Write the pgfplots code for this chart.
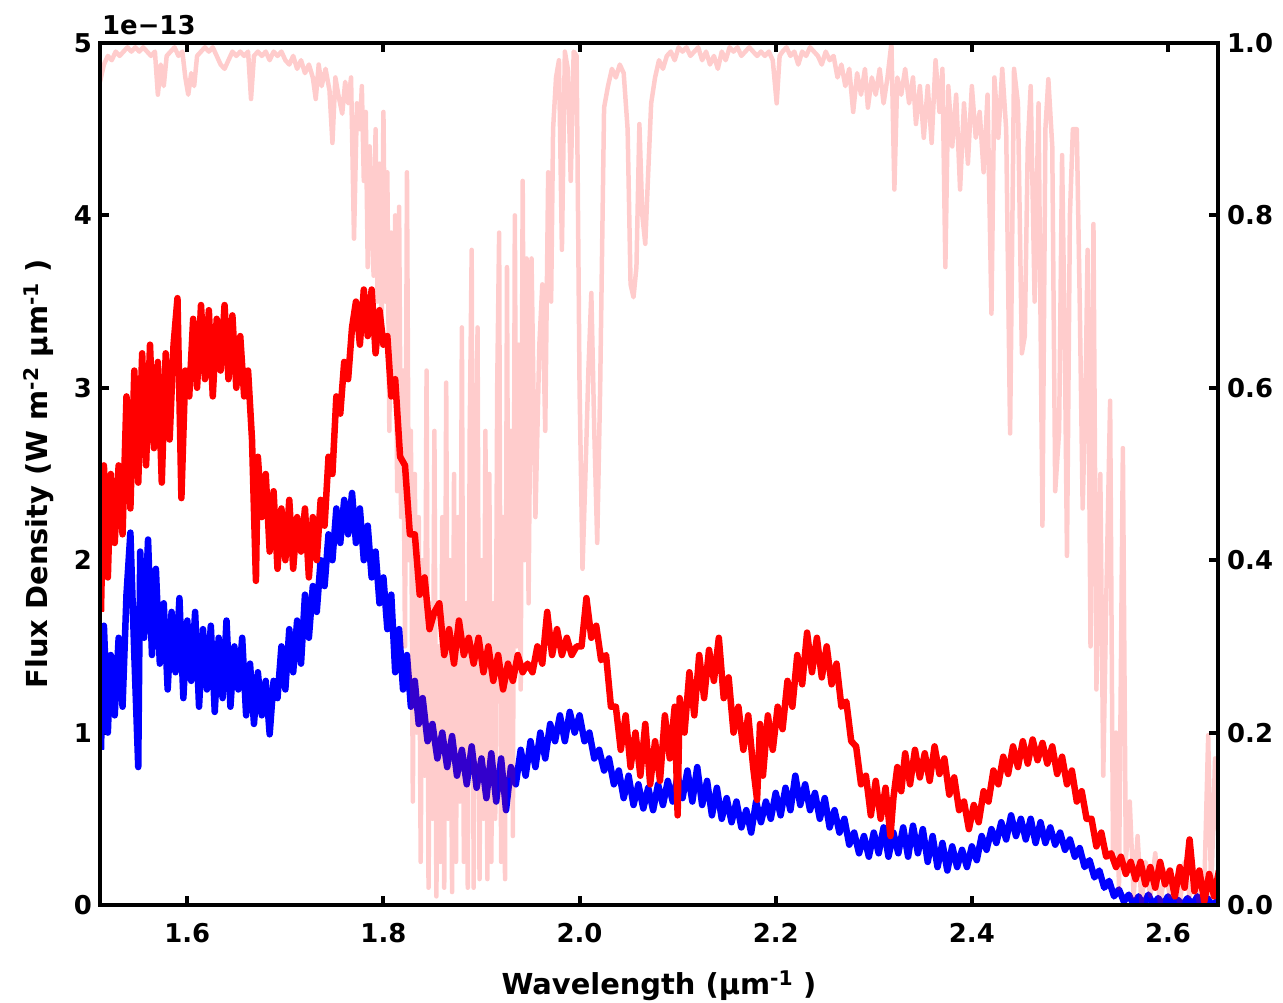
\documentclass[border=0pt]{standalone}
\usepackage{fontspec}
\setmainfont{DejaVu Sans}
\usepackage{pgfplots}
\pgfplotsset{compat=1.18}

% shared look of both axes
\pgfplotsset{
  specaxis/.style={
    scale only axis, width=1118bp, height=862bp,
    xmin=1.511, xmax=2.651,
    tick align=inside, major tick length=9bp,
    every tick/.style={black, line width=4bp},
    axis line style={line width=4.5bp},
    tick label style={font=\fontsize{26}{30}\selectfont\bfseries},
  },
}

\begin{document}
\begin{tikzpicture}[font=\bfseries]
\begin{axis}[
    specaxis, name=ax,
    ymin=0, ymax=5,
    xtick={1.6,1.8,2.0,2.2,2.4,2.6},
    xticklabels={1.6,1.8,2.0,2.2,2.4,2.6},
    xtick pos=both, xticklabel pos=lower,
    ytick={0,1,2,3,4,5}, yticklabels={0,1,2,3,4,5},
    ytick pos=left, yticklabel pos=left,
    xticklabel style={anchor=north, inner sep=0pt, yshift=-18bp},
    yticklabel style={anchor=east, inner sep=0pt, xshift=-8bp},
    xlabel={Wavelength (μm\textsuperscript{-1}\ )},
    ylabel={Flux Density (W m\textsuperscript{-2} μm\textsuperscript{-1}\ )},
    xlabel style={at={(axis description cs:0.5,-0.1044)}, anchor=base,
      font=\fontsize{29}{34}\selectfont\bfseries},
    ylabel style={at={(axis description cs:-0.047,0.5)}, anchor=base,
      font=\fontsize{29}{34}\selectfont\bfseries},
]
% second spectrum (blue)
\addplot[blue, line width=6.5bp, line join=round, mark=none] coordinates {
(1.512,0.90) (1.515,1.62) (1.519,1.00) (1.522,1.45) (1.526,1.10) (1.530,1.55)
(1.534,1.15) (1.538,1.80) (1.542,2.16) (1.546,1.45) (1.550,0.80) (1.552,2.05)
(1.556,1.55) (1.560,2.12) (1.564,1.45) (1.568,1.95) (1.572,1.40) (1.576,1.75)
(1.580,1.25) (1.584,1.70) (1.588,1.35) (1.592,1.78) (1.596,1.20) (1.600,1.65)
(1.604,1.30) (1.608,1.70) (1.612,1.15) (1.616,1.60) (1.620,1.25) (1.624,1.62)
(1.628,1.12) (1.632,1.55) (1.636,1.20) (1.640,1.65) (1.644,1.15) (1.648,1.50)
(1.652,1.25) (1.656,1.55) (1.660,1.10) (1.664,1.40) (1.668,1.05) (1.672,1.35)
(1.676,1.10) (1.680,1.30) (1.684,0.99) (1.688,1.30) (1.692,1.20) (1.696,1.50)
(1.700,1.25) (1.704,1.60) (1.708,1.35) (1.712,1.65) (1.716,1.40) (1.720,1.80)
(1.724,1.55) (1.728,1.85) (1.732,1.70) (1.736,2.00) (1.740,1.85) (1.744,2.15)
(1.748,2.00) (1.752,2.30) (1.756,2.10) (1.760,2.35) (1.764,2.15) (1.768,2.39)
(1.772,2.10) (1.776,2.30) (1.780,2.00) (1.784,2.20) (1.788,1.90) (1.792,2.05)
(1.796,1.75) (1.800,1.90) (1.804,1.60) (1.808,1.80) (1.812,1.35) (1.816,1.60)
(1.820,1.25) (1.824,1.45) (1.828,1.15) (1.832,1.30) (1.836,1.05) (1.840,1.20)
(1.845,0.95) (1.850,1.05) (1.855,0.85) (1.860,1.00) (1.865,0.80) (1.870,0.98)
(1.875,0.75) (1.880,0.90) (1.885,0.70) (1.890,0.92) (1.895,0.68) (1.900,0.85)
(1.905,0.62) (1.910,0.88) (1.915,0.60) (1.920,0.85) (1.925,0.55) (1.930,0.80)
(1.935,0.70) (1.940,0.90) (1.945,0.75) (1.950,0.95) (1.955,0.80) (1.960,1.00)
(1.965,0.85) (1.970,1.05) (1.975,0.95) (1.980,1.10) (1.985,0.95) (1.990,1.12)
(1.995,1.00) (2.000,1.10) (2.005,0.95) (2.010,1.00) (2.015,0.85) (2.020,0.90)
(2.025,0.78) (2.030,0.85) (2.035,0.70) (2.040,0.78) (2.045,0.62) (2.050,0.75)
(2.055,0.58) (2.060,0.70) (2.065,0.56) (2.070,0.68) (2.075,0.55) (2.080,0.70)
(2.085,0.58) (2.090,0.72) (2.095,0.60) (2.100,0.75) (2.105,0.62) (2.110,0.78)
(2.115,0.60) (2.120,0.80) (2.125,0.58) (2.130,0.72) (2.135,0.52) (2.140,0.68)
(2.145,0.50) (2.150,0.62) (2.155,0.48) (2.160,0.60) (2.165,0.45) (2.170,0.55)
(2.175,0.42) (2.180,0.60) (2.185,0.48) (2.190,0.60) (2.195,0.50) (2.200,0.65)
(2.205,0.52) (2.210,0.68) (2.215,0.55) (2.220,0.75) (2.225,0.58) (2.230,0.70)
(2.235,0.55) (2.240,0.65) (2.245,0.50) (2.250,0.62) (2.255,0.45) (2.260,0.55)
(2.265,0.42) (2.270,0.50) (2.275,0.35) (2.280,0.42) (2.285,0.30) (2.290,0.40)
(2.295,0.28) (2.300,0.42) (2.305,0.30) (2.310,0.45) (2.315,0.28) (2.320,0.42)
(2.325,0.30) (2.330,0.45) (2.335,0.28) (2.340,0.46) (2.345,0.30) (2.350,0.44)
(2.355,0.25) (2.360,0.40) (2.365,0.22) (2.370,0.36) (2.375,0.20) (2.380,0.34)
(2.385,0.22) (2.390,0.32) (2.395,0.22) (2.400,0.34) (2.405,0.26) (2.410,0.40)
(2.415,0.32) (2.420,0.44) (2.425,0.36) (2.430,0.48) (2.435,0.38) (2.440,0.52)
(2.445,0.40) (2.450,0.50) (2.455,0.38) (2.460,0.50) (2.465,0.36) (2.470,0.48)
(2.475,0.36) (2.480,0.45) (2.485,0.35) (2.490,0.42) (2.495,0.32) (2.500,0.38)
(2.505,0.28) (2.510,0.33) (2.515,0.22) (2.520,0.26) (2.525,0.16) (2.530,0.20)
(2.535,0.10) (2.540,0.14) (2.545,0.05) (2.550,0.09) (2.555,0.02) (2.560,0.06)
(2.565,0.00) (2.570,0.05) (2.575,0.00) (2.580,0.06) (2.585,0.00) (2.590,0.04)
(2.595,0.00) (2.600,0.05) (2.605,0.00) (2.610,0.03) (2.615,0.00) (2.620,0.04)
(2.625,0.00) (2.630,0.05) (2.635,0.00) (2.640,0.04) (2.645,0.00) (2.652,0.03)
};
% first spectrum (red)
\addplot[red, line width=6.5bp, line join=round, mark=none] coordinates {
(1.512,1.70) (1.515,2.55) (1.519,1.90) (1.522,2.50) (1.526,2.10) (1.530,2.55)
(1.534,2.15) (1.538,2.95) (1.542,2.30) (1.546,3.10) (1.550,2.45) (1.554,3.20)
(1.558,2.55) (1.562,3.25) (1.566,2.65) (1.570,3.15) (1.574,2.45) (1.578,3.20)
(1.582,2.70) (1.586,3.25) (1.590,3.52) (1.594,2.36) (1.598,3.10) (1.602,2.95)
(1.606,3.40) (1.610,3.00) (1.614,3.48) (1.618,3.05) (1.622,3.45) (1.626,2.95)
(1.630,3.40) (1.634,3.10) (1.638,3.48) (1.642,3.05) (1.646,3.42) (1.650,3.00)
(1.654,3.30) (1.658,2.95) (1.662,3.10) (1.666,2.70) (1.670,1.88) (1.672,2.60)
(1.676,2.25) (1.680,2.50) (1.684,2.05) (1.688,2.40) (1.692,1.95) (1.696,2.30)
(1.700,2.00) (1.704,2.35) (1.708,1.95) (1.712,2.25) (1.716,2.05) (1.720,2.30)
(1.724,1.90) (1.728,2.25) (1.732,2.00) (1.736,2.35) (1.740,2.20) (1.744,2.60)
(1.748,2.50) (1.752,2.95) (1.756,2.85) (1.760,3.15) (1.764,3.05) (1.768,3.35)
(1.772,3.50) (1.776,3.25) (1.780,3.57) (1.784,3.30) (1.788,3.57) (1.792,3.20)
(1.796,3.45) (1.800,3.25) (1.804,3.30) (1.808,2.95) (1.812,3.05) (1.817,2.60)
(1.822,2.55) (1.827,2.15) (1.832,2.15) (1.837,1.80) (1.842,1.90) (1.847,1.60)
(1.852,1.70) (1.857,1.75) (1.862,1.45) (1.867,1.60) (1.872,1.40) (1.877,1.65)
(1.882,1.45) (1.887,1.55) (1.892,1.40) (1.897,1.55) (1.902,1.35) (1.907,1.50)
(1.912,1.30) (1.917,1.45) (1.922,1.25) (1.927,1.40) (1.932,1.30) (1.937,1.45)
(1.942,1.35) (1.947,1.40) (1.952,1.35) (1.957,1.50) (1.962,1.40) (1.967,1.70)
(1.972,1.45) (1.977,1.60) (1.982,1.45) (1.987,1.55) (1.992,1.45) (1.997,1.50)
(2.002,1.50) (2.007,1.78) (2.012,1.55) (2.017,1.62) (2.022,1.42) (2.027,1.45)
(2.032,1.15) (2.037,1.15) (2.042,0.90) (2.047,1.10) (2.052,0.80) (2.057,1.00)
(2.062,0.75) (2.067,1.05) (2.072,0.70) (2.077,0.95) (2.082,0.72) (2.087,1.10)
(2.092,0.85) (2.097,1.15) (2.100,0.52) (2.102,1.20) (2.107,1.00) (2.112,1.35)
(2.117,1.10) (2.122,1.45) (2.127,1.20) (2.132,1.48) (2.137,1.30) (2.142,1.55)
(2.147,1.20) (2.152,1.32) (2.157,1.00) (2.162,1.15) (2.167,0.90) (2.172,1.10)
(2.177,0.80) (2.181,0.61) (2.184,1.05) (2.187,0.75) (2.192,1.10) (2.197,0.90)
(2.202,1.15) (2.207,1.02) (2.212,1.30) (2.217,1.15) (2.222,1.45) (2.227,1.28)
(2.232,1.58) (2.237,1.35) (2.242,1.55) (2.247,1.32) (2.252,1.50) (2.257,1.28)
(2.262,1.40) (2.267,1.15) (2.272,1.18) (2.277,0.95) (2.282,0.92) (2.287,0.70)
(2.292,0.75) (2.297,0.52) (2.302,0.72) (2.307,0.50) (2.312,0.68) (2.317,0.40)
(2.320,0.62) (2.324,0.80) (2.328,0.66) (2.332,0.88) (2.337,0.70) (2.342,0.90)
(2.347,0.74) (2.352,0.88) (2.357,0.72) (2.362,0.92) (2.367,0.76) (2.372,0.85)
(2.377,0.64) (2.382,0.74) (2.387,0.55) (2.392,0.60) (2.397,0.44) (2.402,0.58)
(2.407,0.48) (2.412,0.66) (2.417,0.60) (2.422,0.78) (2.427,0.70) (2.432,0.86)
(2.437,0.76) (2.442,0.92) (2.447,0.80) (2.452,0.95) (2.457,0.82) (2.462,0.96)
(2.467,0.84) (2.472,0.94) (2.477,0.82) (2.482,0.92) (2.487,0.76) (2.492,0.86)
(2.497,0.70) (2.502,0.78) (2.507,0.60) (2.512,0.66) (2.517,0.50) (2.522,0.50)
(2.527,0.34) (2.532,0.42) (2.537,0.28) (2.542,0.30) (2.547,0.22) (2.552,0.28)
(2.557,0.18) (2.562,0.25) (2.567,0.15) (2.572,0.25) (2.577,0.12) (2.582,0.22)
(2.587,0.10) (2.592,0.25) (2.597,0.12) (2.602,0.20) (2.607,0.05) (2.612,0.22)
(2.617,0.10) (2.622,0.38) (2.627,0.08) (2.632,0.20) (2.637,0.02) (2.642,0.18)
(2.647,0.05) (2.652,0.20)
};
\end{axis}

\begin{axis}[
    specaxis,
    ymin=0, ymax=1,
    xtick=\empty,
    ytick={0,0.2,0.4,0.6,0.8,1.0},
    yticklabels={0.0,0.2,0.4,0.6,0.8,1.0},
    ytick pos=right, yticklabel pos=right,
    yticklabel style={anchor=west, inner sep=0pt, xshift=9bp},
    axis on top,
]
% atmospheric transmission
\addplot[red, draw opacity=0.2, line width=4.5bp, line join=round, mark=none] coordinates {
(1.511,0.955) (1.515,0.975) (1.519,0.985) (1.523,0.98) (1.527,0.99) (1.531,0.985)
(1.535,0.99) (1.539,0.995) (1.543,0.99) (1.547,0.995) (1.551,0.99) (1.555,0.995)
(1.559,0.99) (1.563,0.985) (1.567,0.99) (1.570,0.94) (1.573,0.975) (1.576,0.95)
(1.579,0.985) (1.583,0.99) (1.587,0.995) (1.591,0.985) (1.595,0.99) (1.598,0.96)
(1.601,0.94) (1.604,0.965) (1.607,0.95) (1.610,0.985) (1.614,0.99) (1.618,0.995)
(1.622,0.99) (1.626,0.995) (1.630,0.985) (1.634,0.975) (1.638,0.97) (1.642,0.98)
(1.646,0.99) (1.650,0.985) (1.654,0.99) (1.658,0.985) (1.662,0.99) (1.665,0.935)
(1.668,0.985) (1.672,0.99) (1.676,0.985) (1.680,0.99) (1.684,0.98) (1.688,0.99)
(1.692,0.985) (1.696,0.99) (1.700,0.98) (1.704,0.975) (1.708,0.985) (1.712,0.97)
(1.716,0.98) (1.720,0.965) (1.724,0.975) (1.728,0.96) (1.731,0.935) (1.734,0.975)
(1.737,0.95) (1.741,0.97) (1.745,0.945) (1.748,0.884) (1.751,0.96) (1.754,0.94)
(1.758,0.918) (1.761,0.955) (1.764,0.93) (1.767,0.96) (1.770,0.773) (1.773,0.93)
(1.776,0.90) (1.778,0.95) (1.780,0.84) (1.782,0.92) (1.784,0.74) (1.786,0.88)
(1.788,0.80) (1.790,0.73) (1.792,0.90) (1.794,0.70) (1.796,0.86) (1.798,0.65)
(1.800,0.92) (1.802,0.70) (1.804,0.85) (1.806,0.55) (1.808,0.78) (1.810,0.60)
(1.812,0.80) (1.814,0.48) (1.816,0.81) (1.818,0.45) (1.820,0.62) (1.822,0.30)
(1.824,0.85) (1.826,0.40) (1.828,0.55) (1.830,0.12) (1.832,0.50) (1.834,0.20)
(1.836,0.45) (1.838,0.05) (1.840,0.40) (1.842,0.15) (1.844,0.62) (1.846,0.02)
(1.848,0.35) (1.850,0.10) (1.852,0.55) (1.854,0.01) (1.856,0.30) (1.858,0.05)
(1.860,0.45) (1.862,0.02) (1.864,0.606) (1.866,0.10) (1.868,0.40) (1.870,0.015)
(1.872,0.50) (1.874,0.05) (1.876,0.45) (1.878,0.12) (1.880,0.67) (1.882,0.05)
(1.884,0.35) (1.886,0.02) (1.888,0.55) (1.890,0.76) (1.892,0.02) (1.894,0.45)
(1.896,0.67) (1.898,0.03) (1.900,0.40) (1.902,0.10) (1.904,0.55) (1.906,0.03)
(1.908,0.50) (1.910,0.05) (1.912,0.35) (1.914,0.10) (1.916,0.60) (1.918,0.78)
(1.920,0.05) (1.922,0.45) (1.924,0.03) (1.926,0.74) (1.928,0.15) (1.930,0.55)
(1.932,0.08) (1.934,0.80) (1.936,0.30) (1.938,0.65) (1.940,0.25) (1.942,0.84)
(1.944,0.40) (1.946,0.75) (1.948,0.35) (1.951,0.75) (1.955,0.45) (1.959,0.65)
(1.962,0.72) (1.965,0.55) (1.968,0.85) (1.971,0.70) (1.973,0.90) (1.976,0.96)
(1.979,0.98) (1.982,0.76) (1.985,0.99) (1.988,0.97) (1.991,0.84) (1.994,0.99)
(1.997,0.985) (2.000,0.60) (2.003,0.39) (2.006,0.50) (2.009,0.62) (2.012,0.71)
(2.015,0.55) (2.018,0.42) (2.021,0.60) (2.025,0.925) (2.029,0.95) (2.033,0.97)
(2.037,0.96) (2.041,0.975) (2.045,0.965) (2.049,0.90) (2.052,0.72) (2.055,0.705)
(2.058,0.74) (2.061,0.906) (2.064,0.80) (2.067,0.767) (2.070,0.85) (2.073,0.93)
(2.077,0.96) (2.081,0.98) (2.085,0.97) (2.089,0.985) (2.093,0.99) (2.097,0.98)
(2.101,0.995) (2.105,0.99) (2.109,0.995) (2.113,0.985) (2.117,0.99) (2.121,0.995)
(2.125,0.98) (2.129,0.99) (2.133,0.975) (2.137,0.985) (2.141,0.97) (2.145,0.99)
(2.149,0.98) (2.153,0.995) (2.157,0.99) (2.161,0.995) (2.165,0.985) (2.169,0.99)
(2.173,0.995) (2.177,0.99) (2.181,0.985) (2.185,0.99) (2.189,0.985) (2.193,0.99)
(2.197,0.98) (2.201,0.93) (2.204,0.985) (2.207,0.99) (2.211,0.995) (2.215,0.985)
(2.219,0.99) (2.223,0.975) (2.227,0.99) (2.231,0.985) (2.235,0.995) (2.239,0.99)
(2.243,0.985) (2.247,0.975) (2.251,0.99) (2.255,0.98) (2.259,0.985) (2.263,0.96)
(2.267,0.975) (2.271,0.95) (2.275,0.97) (2.279,0.92) (2.283,0.965) (2.287,0.94)
(2.291,0.97) (2.294,0.925) (2.298,0.96) (2.302,0.94) (2.306,0.97) (2.310,0.93)
(2.314,0.96) (2.318,1.00) (2.321,0.83) (2.324,0.96) (2.328,0.94) (2.332,0.97)
(2.336,0.93) (2.340,0.96) (2.343,0.906) (2.347,0.95) (2.351,0.89) (2.355,0.95)
(2.359,0.884) (2.363,0.98) (2.367,0.92) (2.370,0.97) (2.373,0.74) (2.376,0.95)
(2.380,0.88) (2.384,0.94) (2.388,0.83) (2.392,0.93) (2.396,0.86) (2.400,0.95)
(2.404,0.89) (2.408,0.92) (2.412,0.85) (2.416,0.94) (2.420,0.686) (2.423,0.96)
(2.427,0.89) (2.431,0.97) (2.435,0.90) (2.439,0.547) (2.443,0.97) (2.447,0.93)
(2.451,0.64) (2.454,0.66) (2.457,0.88) (2.460,0.95) (2.464,0.70) (2.468,0.93)
(2.472,0.44) (2.475,0.90) (2.478,0.958) (2.482,0.88) (2.485,0.48) (2.489,0.55)
(2.492,0.87) (2.495,0.63) (2.497,0.405) (2.500,0.80) (2.503,0.90) (2.507,0.90)
(2.510,0.70) (2.513,0.46) (2.516,0.60) (2.518,0.76) (2.521,0.30) (2.524,0.79)
(2.527,0.25) (2.531,0.50) (2.534,0.15) (2.537,0.35) (2.541,0.585) (2.544,0.05)
(2.547,0.20) (2.550,0.02) (2.554,0.53) (2.557,0.05) (2.561,0.12) (2.565,0.01)
(2.569,0.08) (2.573,0.00) (2.577,0.05) (2.582,0.01) (2.587,0.06) (2.592,0.00)
(2.597,0.04) (2.602,0.01) (2.607,0.03) (2.612,0.00) (2.617,0.05) (2.622,0.01)
(2.627,0.03) (2.632,0.00) (2.637,0.02) (2.641,0.197) (2.644,0.01) (2.648,0.17)
(2.652,0.06)
};
\end{axis}

\node[anchor=base west, inner sep=0pt, font=\fontsize{26}{30}\selectfont\bfseries]
  at ([xshift=2bp,yshift=8bp]ax.north west) {1e−13};

\pgfresetboundingbox
\path[use as bounding box] ([xshift=-100bp,yshift=-98bp]ax.south west)
  rectangle ([xshift=65bp,yshift=43bp]ax.north east);
\end{tikzpicture}
\end{document}
